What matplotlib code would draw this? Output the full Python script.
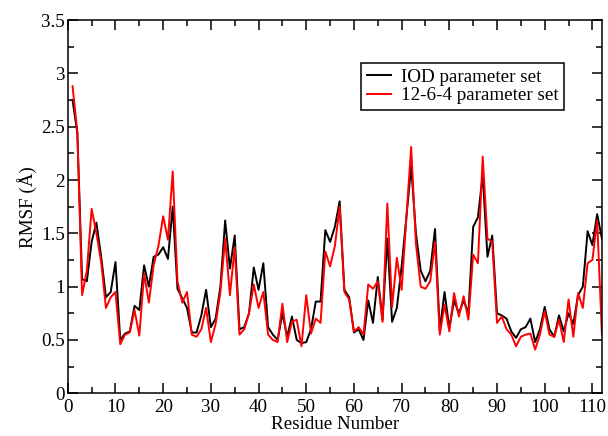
import numpy as np
import matplotlib.pyplot as plt
from matplotlib.ticker import MultipleLocator

# RMSF per residue
residues = np.arange(1, 113)
rmsf_iod = [2.75, 2.44, 1.07, 1.05, 1.42, 1.60, 1.28, 0.90, 0.95, 1.23,
            0.50, 0.56, 0.58, 0.82, 0.78, 1.20, 1.00, 1.28, 1.30, 1.37,
            1.26, 1.75, 0.98, 0.89, 0.80, 0.57, 0.57, 0.73, 0.97, 0.62,
            0.70, 1.00, 1.62, 1.17, 1.48, 0.60, 0.62, 0.75, 1.18, 0.97,
            1.22, 0.62, 0.55, 0.50, 0.75, 0.53, 0.72, 0.50, 0.47, 0.48,
            0.60, 0.86, 0.86, 1.53, 1.42, 1.56, 1.80, 0.97, 0.90, 0.57,
            0.60, 0.50, 0.87, 0.66, 1.09, 0.69, 1.45, 0.67, 0.80, 1.19,
            1.65, 2.13, 1.50, 1.15, 1.05, 1.15, 1.54, 0.59, 0.95, 0.61,
            0.87, 0.75, 0.87, 0.75, 1.56, 1.65, 2.05, 1.28, 1.48, 0.75,
            0.73, 0.70, 0.58, 0.52, 0.60, 0.62, 0.70, 0.48, 0.60, 0.81,
            0.60, 0.53, 0.73, 0.58, 0.75, 0.65, 0.92, 1.00, 1.52, 1.39,
            1.68, 1.45]
rmsf_1264 = [2.88, 2.45, 0.92, 1.15, 1.73, 1.50, 1.23, 0.80, 0.90, 0.95,
             0.46, 0.55, 0.57, 0.78, 0.54, 1.12, 0.85, 1.20, 1.38, 1.66,
             1.44, 2.08, 1.05, 0.85, 0.95, 0.55, 0.53, 0.60, 0.80, 0.48,
             0.65, 0.95, 1.45, 0.92, 1.37, 0.55, 0.60, 0.75, 1.02, 0.80,
             0.95, 0.55, 0.50, 0.48, 0.84, 0.48, 0.67, 0.69, 0.44, 0.92,
             0.56, 0.70, 0.66, 1.33, 1.19, 1.38, 1.75, 0.95, 0.88, 0.58,
             0.62, 0.55, 1.02, 0.98, 1.05, 0.67, 1.78, 0.81, 1.27, 0.97,
             1.65, 2.31, 1.40, 1.00, 0.98, 1.05, 1.42, 0.55, 0.83, 0.58,
             0.94, 0.72, 0.91, 0.69, 1.30, 1.22, 2.22, 1.45, 1.42, 0.66,
             0.72, 0.60, 0.55, 0.44, 0.53, 0.55, 0.56, 0.41, 0.55, 0.77,
             0.55, 0.53, 0.69, 0.48, 0.88, 0.53, 0.94, 0.80, 1.22, 1.25,
             1.62, 0.55]
ytick_labels = ['0', '0.5', '1', '1.5', '2', '2.5', '3', '3.5']

plt.rcParams['font.family'] = ['Liberation Serif', 'DejaVu Serif']
plt.rcParams['font.size'] = 13.7

fig = plt.figure(figsize=(6.08, 4.36), dpi=100)
ax = fig.add_axes([0.1115, 0.098, 0.8785, 0.856])

ax.plot(residues, rmsf_iod, color='black', lw=1.4, label='IOD parameter set')
ax.plot(residues, rmsf_1264, color='red', lw=1.4, label='12-6-4 parameter set')

ax.set_xlim(0, 112)
ax.set_ylim(0, 3.5)
ax.xaxis.set_major_locator(MultipleLocator(10))
ax.xaxis.set_minor_locator(MultipleLocator(5))
ax.set_yticks(np.arange(0, 3.51, 0.5))
ax.set_yticklabels(ytick_labels)
ax.yaxis.set_minor_locator(MultipleLocator(0.25))
ax.tick_params(which='both', direction='in', top=True, right=True, width=1.1)
ax.tick_params(axis='x', pad=4)
ax.tick_params(axis='y', pad=2)
ax.tick_params(which='major', length=7.5)
ax.tick_params(which='minor', length=4)
for s in ax.spines.values():
    s.set_linewidth(1.1)

ax.set_xlabel('Residue Number', labelpad=0)
ax.set_ylabel('RMSF (Å)', labelpad=3)

leg = ax.legend(loc='upper left', bbox_to_anchor=(0.549, 0.885), borderaxespad=0,
                fancybox=False, edgecolor='black', framealpha=1,
                handlelength=1.25, handletextpad=0.55, borderpad=0.3,
                labelspacing=0.05)
leg.get_frame().set_linewidth(1.1)

fig.savefig('out.png', dpi=100)
